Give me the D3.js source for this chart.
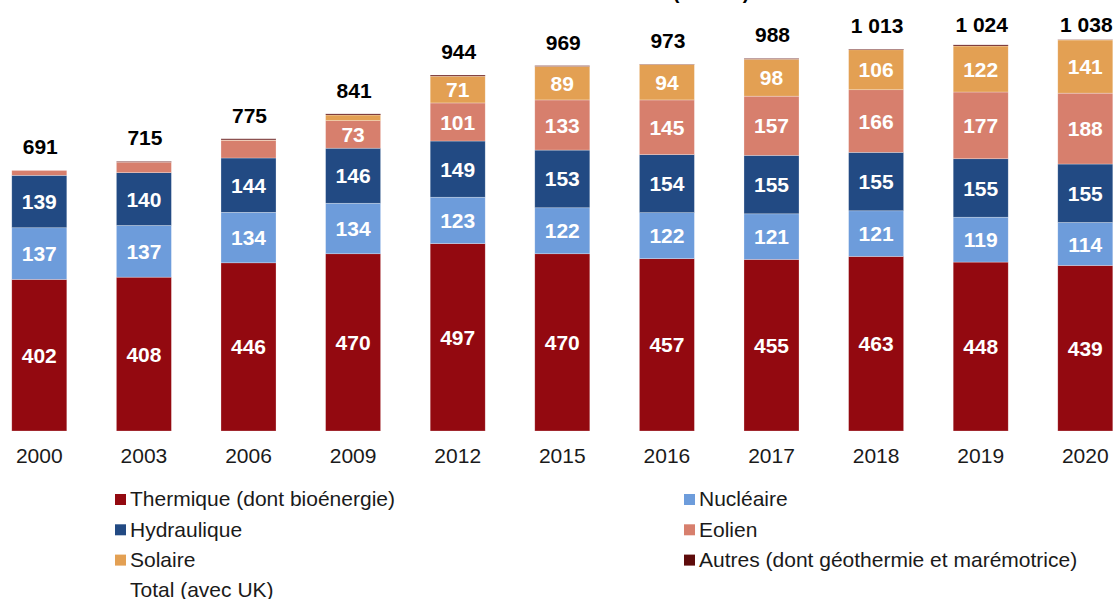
<!DOCTYPE html>
<html>
<head>
<meta charset="utf-8">
<script src="https://cdn.jsdelivr.net/npm/d3@7"></script>
<style>
  body { margin: 0; background: #fff; }
  svg { font-family: "Liberation Sans", Arial, sans-serif; }
</style>
</head>
<body>
<div id="chart"></div>
<script>

// Data (GW)
var years = ["2000", "2003", "2006", "2009", "2012", "2015", "2016", "2017", "2018", "2019", "2020"];
var thermique   = [402, 408, 446, 470, 497, 470, 457, 455, 463, 448, 439];
var nucleaire   = [137, 137, 134, 134, 123, 122, 122, 121, 121, 119, 114];
var hydraulique = [139, 140, 144, 146, 149, 153, 154, 155, 155, 155, 155];
var eolien      = [13, 28, 47, 73, 101, 133, 145, 157, 166, 177, 188];
var solaire     = [0, 0, 1, 15, 71, 89, 94, 98, 106, 122, 141];
var autres      = [0, 2, 3, 3, 3, 2, 1, 2, 2, 3, 1];
var totals      = [691, 715, 775, 841, 944, 969, 973, 988, 1013, 1024, 1038];
var totalLabels = ["691", "715", "775", "841", "944", "969", "973", "988", "1 013", "1 024", "1 038"];

var seriesKeys = ["thermique", "nucleaire", "hydraulique", "eolien", "solaire", "autres"];
var seriesNames = {
  thermique: "Thermique (dont bioénergie)",
  nucleaire: "Nucléaire",
  hydraulique: "Hydraulique",
  eolien: "Eolien",
  solaire: "Solaire",
  autres: "Autres (dont géothermie et marémotrice)"
};
var colors = {
  thermique: "#930910",
  nucleaire: "#6d9cdb",
  hydraulique: "#224a83",
  eolien: "#d77f6d",
  solaire: "#e3a053",
  autres: "#5e0b0b"
};

var W = 1114, H = 599;

// table for d3.stack
var table = years.map(function(y, i) {
  return {
    year: y,
    thermique: thermique[i],
    nucleaire: nucleaire[i],
    hydraulique: hydraulique[i],
    eolien: eolien[i],
    solaire: solaire[i],
    autres: autres[i],
    total: totals[i],
    totalLabel: totalLabels[i]
  };
});

var svg = d3.select("#chart")
  .append("svg")
    .attr("width", W)
    .attr("height", H);

// title, cut off at the top edge like the reference
svg.append("text")
    .attr("x", 711)
    .attr("y", -1.5)
    .attr("text-anchor", "middle")
    .style("font-size", "20px")
    .style("font-weight", "bold")
    .text("(en GW)");

// scales
var x = d3.scaleBand()
    .domain(years)
    .range([-13, 1137.6])
    .paddingInner(0.474)
    .paddingOuter(0.237);

var y = d3.scaleLinear()
    .domain([0, 1143])
    .range([431, 0]);

var stack = d3.stack().keys(seriesKeys);
var stacked = stack(table);

var layers = svg.selectAll("g.layer")
  .data(stacked)
  .enter().append("g")
    .attr("class", "layer")
    .attr("fill", function(d) { return colors[d.key]; });

layers.selectAll("rect")
  .data(function(d) { return d; })
  .enter().append("rect")
    .attr("x", function(d) { return x(d.data.year); })
    .attr("y", function(d) { return y(d[1]); })
    .attr("width", x.bandwidth())
    .attr("height", function(d) { return y(d[0]) - y(d[1]); })
    .attr("stroke", "#ffffff")
    .attr("stroke-opacity", 0.45)
    .attr("stroke-width", 0.6);

// segment labels (only where room)
layers.selectAll("text")
  .data(function(d) { return d.filter(function(s) { return (s[1] - s[0]) >= 60; }); })
  .enter().append("text")
    .attr("x", function(d) { return x(d.data.year) + x.bandwidth() / 2; })
    .attr("y", function(d) { return (y(d[0]) + y(d[1])) / 2; })
    .attr("dy", "0.36em")
    .attr("text-anchor", "middle")
    .attr("fill", "#ffffff")
    .style("font-size", "21px")
    .style("font-weight", "bold")
    .text(function(d) { return d[1] - d[0]; });

// totals
svg.selectAll("text.total")
  .data(table)
  .enter().append("text")
    .attr("class", "total")
    .attr("x", function(d) { return x(d.year) + x.bandwidth() / 2 + 1; })
    .attr("y", function(d) { return Math.max(y(d.total) - 16, 32); })
    .attr("text-anchor", "middle")
    .attr("fill", "#000")
    .style("font-size", "21px")
    .style("font-weight", "bold")
    .text(function(d) { return d.totalLabel; });

// x axis
var xAxis = svg.append("g")
    .attr("transform", "translate(0,431)")
    .call(d3.axisBottom(x).tickSize(0).tickPadding(17));
xAxis.select(".domain").remove();
xAxis.selectAll("text")
    .style("font-size", "21px")
    .style("font-family", "'Liberation Sans', Arial, sans-serif")
    .attr("fill", "#1a1a1a");

// legend
var legendItems = [
  { key: "thermique", col: 0, row: 0 },
  { key: "nucleaire", col: 1, row: 0 },
  { key: "hydraulique", col: 0, row: 1 },
  { key: "eolien", col: 1, row: 1 },
  { key: "solaire", col: 0, row: 2 },
  { key: "autres", col: 1, row: 2 },
  { key: null, label: "Total (avec UK)", col: 0, row: 3 }
];
var colX = [115, 684], rowY0 = 499, rowStep = 30.3;

var legend = svg.selectAll("g.legend")
  .data(legendItems)
  .enter().append("g")
    .attr("class", "legend")
    .attr("transform", function(d) {
      return "translate(" + colX[d.col] + "," + (rowY0 + d.row * rowStep) + ")";
    });

legend.filter(function(d) { return d.key; })
  .append("rect")
    .attr("x", 0)
    .attr("y", -5)
    .attr("width", 11)
    .attr("height", 11)
    .attr("fill", function(d) { return colors[d.key]; });

legend.append("text")
    .attr("x", 15)
    .attr("y", 0)
    .attr("dy", "0.35em")
    .attr("fill", "#1a1a1a")
    .style("font-size", "21px")
    .text(function(d) { return d.key ? seriesNames[d.key] : d.label; });

</script>
</body>
</html>
